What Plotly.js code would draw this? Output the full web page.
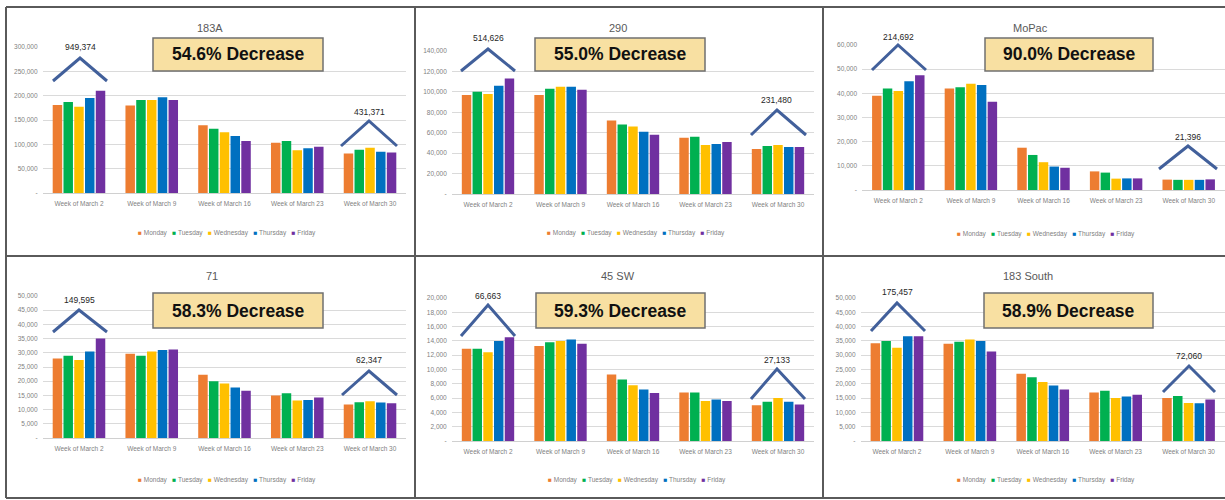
<!DOCTYPE html>
<html>
<head>
<meta charset="utf-8">
<script src="https://cdn.plot.ly/plotly-3.0.1.min.js"></script>
<style>html,body{margin:0;padding:0;background:#fff;}#chart{width:1225px;height:500px;}</style>
</head>
<body>
<div id="chart"></div>
<script>
// ---------------- DATA ----------------
const weeks = ['Week of March 2', 'Week of March 9', 'Week of March 16', 'Week of March 23', 'Week of March 30'];
const days = ['Monday', 'Tuesday', 'Wednesday', 'Thursday', 'Friday'];
const roads = ['183A', '290', 'MoPac', '71', '45 SW', '183 South'];
const decreases = ['54.6% Decrease', '55.0% Decrease', '90.0% Decrease', '58.3% Decrease', '59.3% Decrease', '58.9% Decrease'];
const firstWeekTotals = ['949,374', '514,626', '214,692', '149,595', '66,663', '175,457'];
const lastWeekTotals = ['431,371', '231,480', '21,396', '62,347', '27,133', '72,060'];

// rows = Monday..Friday, columns = weeks
const road183A = [
  [181000, 180000, 139000, 103000, 81000],
  [187000, 191000, 132000, 107000, 89000],
  [177000, 191000, 125000, 88000, 93000],
  [195000, 197000, 117000, 92000, 85000],
  [210000, 191000, 107000, 95000, 83000]
];
const road290 = [
  [97000, 97000, 72000, 55000, 44000],
  [100000, 103000, 68000, 56000, 47000],
  [98000, 105000, 66000, 48000, 48000],
  [106000, 105000, 61000, 49000, 46000],
  [113000, 102000, 58000, 51000, 46000]
];
const roadMoPac = [
  [39000, 42000, 17500, 7700, 4300],
  [42000, 42500, 14500, 7200, 4200],
  [41000, 44000, 11500, 4700, 4200],
  [45000, 43500, 9700, 4800, 4200],
  [47500, 36500, 9200, 4800, 4400]
];
const road71 = [
  [28000, 29700, 22300, 15000, 11800],
  [29000, 29000, 20000, 15800, 12600],
  [27500, 30500, 19200, 13200, 12900],
  [30500, 31000, 17800, 13400, 12500],
  [35000, 31200, 16600, 14300, 12200]
];
const road45SW = [
  [12900, 13300, 9300, 6800, 5000],
  [12900, 13800, 8600, 6800, 5500],
  [12400, 14000, 7800, 5600, 6000],
  [14000, 14200, 7200, 5800, 5500],
  [14500, 13600, 6700, 5600, 5100]
];
const road183South = [
  [34200, 34000, 23500, 17000, 15000],
  [35000, 34700, 22300, 17600, 15700],
  [32600, 35500, 20600, 15000, 13300],
  [36600, 35000, 19400, 15600, 13200],
  [36600, 31300, 18000, 16200, 14500]
];
const roadData = [road183A, road290, roadMoPac, road71, road45SW, road183South];

const ticks183A = [0, 50000, 100000, 150000, 200000, 250000, 300000];
const ticks290 = [0, 20000, 40000, 60000, 80000, 100000, 120000, 140000];
const ticksMoPac = [0, 10000, 20000, 30000, 40000, 50000, 60000];
const ticks71 = [0, 5000, 10000, 15000, 20000, 25000, 30000, 35000, 40000, 45000, 50000];
const ticks45SW = [0, 2000, 4000, 6000, 8000, 10000, 12000, 14000, 16000, 18000, 20000];
const ticks183South = [0, 5000, 10000, 15000, 20000, 25000, 30000, 35000, 40000, 45000, 50000];
const tickSets = [ticks183A, ticks290, ticksMoPac, ticks71, ticks45SW, ticks183South];

// ---------------- STYLE / LAYOUT ----------------
const dayColors = ['#ED7D31', '#00B050', '#FFC000', '#0070C0', '#7030A0'];
const W = 1225, H = 500;
const px = v => v / W;
const py = v => 1 - v / H;

// pixel geometry of each panel
const geo = [
  {x: [42.6, 406.4], yZero: 193, yTop: 47, title: [210, 28], box: [153, 38, 323, 71],
   chevL: [[53, 81], [80, 58], [107, 81]], labL: [80, 47], chevR: [[341, 146], [369, 121], [397, 146]], labR: [369, 112], leg: [227, 233]},
  {x: [451.75, 814.25], yZero: 194, yTop: 51, title: [618, 28], box: [535, 38, 705, 71],
   chevL: [[461, 71], [488, 49], [515, 71]], labL: [488, 38], chevR: [[751, 135], [777, 110], [806, 135]], labR: [777, 100], leg: [636, 233]},
  {x: [862, 1225], yZero: 190, yTop: 45, title: [1030, 28], box: [985, 38, 1153, 71],
   chevL: [[872, 70], [898, 45], [926, 70]], labL: [898, 37], chevR: [[1159, 169], [1188, 146], [1217, 169]], labR: [1188, 137], leg: [1046, 234]},
  {x: [42.6, 406.4], yZero: 438, yTop: 296, title: [212, 276], box: [153, 293, 323, 328],
   chevL: [[53, 332], [79, 310], [107, 332]], labL: [79, 300], chevR: [[342, 395], [369, 371], [397, 395]], labR: [369, 360], leg: [227, 480]},
  {x: [451.75, 814.25], yZero: 441, yTop: 298, title: [618, 276], box: [536, 293, 705, 328],
   chevL: [[461, 336], [488, 305], [515, 336]], labL: [488, 296], chevR: [[751, 399], [777, 369], [805, 399]], labR: [777, 360], leg: [637, 480]},
  {x: [860.5, 1225], yZero: 441, yTop: 298, title: [1028, 276], box: [984, 293, 1153, 328],
   chevL: [[871, 331], [897, 303], [925, 331]], labL: [897, 292], chevR: [[1163, 392], [1189, 366], [1215, 392]], labR: [1189, 356], leg: [1046, 480]}
];

const FONT = 'Liberation Sans, Arial, sans-serif';
const fmt = v => v === 0 ? '-' : v.toLocaleString('en-US');

const traces = [];
const layout = {
  width: W, height: H,
  margin: {l: 0, r: 0, t: 0, b: 0},
  paper_bgcolor: '#ffffff',
  plot_bgcolor: 'rgba(0,0,0,0)',
  barmode: 'group',
  bargap: 0.26,
  bargroupgap: 0.12,
  showlegend: false,
  font: {family: FONT, color: '#7f7f7f'},
  shapes: [],
  annotations: []
};

roadData.forEach((rd, p) => {
  const sfx = p === 0 ? '' : String(p + 1);
  const g = geo[p];
  rd.forEach((vals, d) => {
    traces.push({
      type: 'bar', x: weeks, y: vals, name: days[d],
      xaxis: 'x' + sfx, yaxis: 'y' + sfx,
      marker: {color: dayColors[d], line: {width: 0}},
      hovertemplate: roads[p] + ' %{x}<br>' + days[d] + ': %{y:,}<extra></extra>'
    });
  });
  const tv = tickSets[p];
  layout['xaxis' + sfx] = {
    domain: [px(g.x[0]), px(g.x[1])], anchor: 'y' + sfx,
    type: 'category', showgrid: false, showline: true, linecolor: '#D0D0D0', linewidth: 1,
    ticks: '', tickfont: {size: 6.5, color: '#7f7f7f', family: FONT}, ticklabelstandoff: 4,
    fixedrange: true
  };
  layout['yaxis' + sfx] = {
    domain: [py(g.yZero), py(g.yTop)], anchor: 'x' + sfx,
    range: [0, tv[tv.length - 1]],
    tickvals: tv, ticktext: tv.map(fmt),
    showgrid: true, gridcolor: '#DADADA', gridwidth: 1, zeroline: false, showline: false,
    ticks: '', tickfont: {size: 6.5, color: '#7f7f7f', family: FONT}, ticklabelstandoff: 4,
    fixedrange: true
  };
  // title
  layout.annotations.push({xref: 'paper', yref: 'paper', x: px(g.title[0]), y: py(g.title[1]),
    text: roads[p], showarrow: false, font: {size: 11, color: '#595959', family: FONT}, xanchor: 'center', yanchor: 'middle'});
  // decrease box
  layout.shapes.push({type: 'rect', xref: 'paper', yref: 'paper', x0: px(g.box[0]), x1: px(g.box[2]), y0: py(g.box[1]), y1: py(g.box[3]),
    fillcolor: '#F8E0A2', line: {color: '#707070', width: 1.5}, layer: 'above'});
  layout.annotations.push({xref: 'paper', yref: 'paper', x: px((g.box[0] + g.box[2]) / 2), y: py((g.box[1] + g.box[3]) / 2),
    text: '<b>' + decreases[p] + '</b>', showarrow: false, font: {size: 17.5, color: '#111111', family: FONT}, xanchor: 'center', yanchor: 'middle'});
  // chevrons
  [g.chevL, g.chevR].forEach(c => {
    const path = 'M' + c.map(pt => px(pt[0]) + ',' + py(pt[1])).join('L');
    layout.shapes.push({type: 'path', xref: 'paper', yref: 'paper', path: path,
      line: {color: '#42609B', width: 3}, layer: 'above'});
  });
  layout.annotations.push({xref: 'paper', yref: 'paper', x: px(g.labL[0]), y: py(g.labL[1]),
    text: firstWeekTotals[p], showarrow: false, font: {size: 8.5, color: '#262626', family: FONT}, xanchor: 'center', yanchor: 'middle'});
  layout.annotations.push({xref: 'paper', yref: 'paper', x: px(g.labR[0]), y: py(g.labR[1]),
    text: lastWeekTotals[p], showarrow: false, font: {size: 8.5, color: '#262626', family: FONT}, xanchor: 'center', yanchor: 'middle'});
  // legend
  const legText = days.map((dn, i) => '<span style="color:' + dayColors[i] + '">■</span> ' + dn).join('   ');
  layout.annotations.push({xref: 'paper', yref: 'paper', x: px(g.leg[0]), y: py(g.leg[1]),
    text: legText, showarrow: false, font: {size: 6.5, color: '#7f7f7f', family: FONT}, xanchor: 'center', yanchor: 'middle'});
});

// panel frames
const frameColor = '#5A5A5A';
[
  [6, 7, 1225, 7], [6, 256, 1225, 256], [6, 498, 1225, 498],
  [6, 7, 6, 498], [415, 7, 415, 498], [823, 7, 823, 498]
].forEach(l => {
  layout.shapes.push({type: 'line', xref: 'paper', yref: 'paper', x0: px(l[0]), y0: py(l[1]), x1: px(l[2]), y1: py(l[3]),
    line: {color: frameColor, width: 2}, layer: 'above'});
});

Plotly.newPlot('chart', traces, layout, {displayModeBar: false, staticPlot: true});
</script>
</body>
</html>
